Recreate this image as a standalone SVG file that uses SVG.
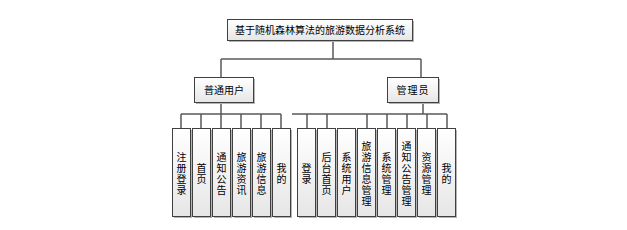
<svg xmlns="http://www.w3.org/2000/svg" width="627" height="230" viewBox="0 0 627 230">
<defs>
<linearGradient id="g" x1="0" y1="0" x2="0" y2="1">
<stop offset="0" stop-color="#ffffff"/>
<stop offset="1" stop-color="#e6e6e6"/>
</linearGradient>
</defs>
<style>
.sh{fill:#b4b4b4;}
.bx{fill:url(#g);stroke:#404040;stroke-width:1;}
.lf{fill:url(#g);stroke:#404040;stroke-width:1;}
.t{font-family:"Noto Sans CJK SC","Noto Sans CJK JP",sans-serif;font-size:10px;fill:#000;text-anchor:middle;}
.c{fill:none;stroke:#5a5a5a;stroke-width:1.5;}
</style>
<rect width="627" height="230" fill="#ffffff"/>
<g id="connectors">
<path class="c" d="M333 40V59M221 59H421M221 59V77M421 59V77"/>
<path class="c" d="M221 102V114M181 114H281M181 114V128M201 114V128M221 114V128M241 114V128M261 114V128M281 114V128"/>
<path class="c" d="M423 102V114M292 114H447M307 114V128M327 114V128M367 114V128M387 114V128M407 114V128M427 114V128M447 114V128"/>
</g>
<g id="root">
<rect class="sh" x="229" y="21" width="185" height="21"/>
<rect class="bx" x="227.5" y="19.5" width="185" height="21"/>
<text class="t" x="320" y="34">基于随机森林算法的旅游数据分析系统</text>
</g>
<g id="user">
<rect class="sh" x="196" y="79" width="59" height="25"/>
<rect class="bx" x="194.5" y="77.5" width="59" height="25"/>
<text class="t" x="224" y="94">普通用户</text>
</g>
<g id="admin">
<rect class="sh" x="389" y="79" width="51" height="25"/>
<rect class="bx" x="387.5" y="77.5" width="51" height="25"/>
<text class="t" x="413" y="94" letter-spacing="1">管理员</text>
</g>
<g id="u1"><rect class="sh" x="174" y="130" width="18" height="88"/><rect class="lf" x="172.5" y="128.5" width="18" height="88"/><text class="t" x="181.5" y="161"><tspan x="181.5">注</tspan><tspan x="181.5" dy="11">册</tspan><tspan x="181.5" dy="11">登</tspan><tspan x="181.5" dy="11">录</tspan></text></g>
<g id="u2"><rect class="sh" x="194" y="130" width="18" height="88"/><rect class="lf" x="192.5" y="128.5" width="18" height="88"/><text class="t" x="201.5" y="172"><tspan x="201.5">首</tspan><tspan x="201.5" dy="11">页</tspan></text></g>
<g id="u3"><rect class="sh" x="214" y="130" width="18" height="88"/><rect class="lf" x="212.5" y="128.5" width="18" height="88"/><text class="t" x="221.5" y="161"><tspan x="221.5">通</tspan><tspan x="221.5" dy="11">知</tspan><tspan x="221.5" dy="11">公</tspan><tspan x="221.5" dy="11">告</tspan></text></g>
<g id="u4"><rect class="sh" x="234" y="130" width="18" height="88"/><rect class="lf" x="232.5" y="128.5" width="18" height="88"/><text class="t" x="241.5" y="161"><tspan x="241.5">旅</tspan><tspan x="241.5" dy="11">游</tspan><tspan x="241.5" dy="11">资</tspan><tspan x="241.5" dy="11">讯</tspan></text></g>
<g id="u5"><rect class="sh" x="254" y="130" width="18" height="88"/><rect class="lf" x="252.5" y="128.5" width="18" height="88"/><text class="t" x="261.5" y="161"><tspan x="261.5">旅</tspan><tspan x="261.5" dy="11">游</tspan><tspan x="261.5" dy="11">信</tspan><tspan x="261.5" dy="11">息</tspan></text></g>
<g id="u6"><rect class="sh" x="274" y="130" width="18" height="88"/><rect class="lf" x="272.5" y="128.5" width="18" height="88"/><text class="t" x="281.5" y="172"><tspan x="281.5">我</tspan><tspan x="281.5" dy="11">的</tspan></text></g>
<g id="a1"><rect class="sh" x="299" y="130" width="18" height="88"/><rect class="lf" x="297.5" y="128.5" width="18" height="88"/><text class="t" x="306.5" y="172"><tspan x="306.5">登</tspan><tspan x="306.5" dy="11">录</tspan></text></g>
<g id="a2"><rect class="sh" x="319" y="130" width="18" height="88"/><rect class="lf" x="317.5" y="128.5" width="18" height="88"/><text class="t" x="326.5" y="161"><tspan x="326.5">后</tspan><tspan x="326.5" dy="11">台</tspan><tspan x="326.5" dy="11">首</tspan><tspan x="326.5" dy="11">页</tspan></text></g>
<g id="a3"><rect class="sh" x="339" y="130" width="18" height="88"/><rect class="lf" x="337.5" y="128.5" width="18" height="88"/><text class="t" x="346.5" y="161"><tspan x="346.5">系</tspan><tspan x="346.5" dy="11">统</tspan><tspan x="346.5" dy="11">用</tspan><tspan x="346.5" dy="11">户</tspan></text></g>
<g id="a4"><rect class="sh" x="359" y="130" width="18" height="88"/><rect class="lf" x="357.5" y="128.5" width="18" height="88"/><text class="t" x="366.5" y="150"><tspan x="366.5">旅</tspan><tspan x="366.5" dy="11">游</tspan><tspan x="366.5" dy="11">信</tspan><tspan x="366.5" dy="11">息</tspan><tspan x="366.5" dy="11">管</tspan><tspan x="366.5" dy="11">理</tspan></text></g>
<g id="a5"><rect class="sh" x="379" y="130" width="18" height="88"/><rect class="lf" x="377.5" y="128.5" width="18" height="88"/><text class="t" x="386.5" y="161"><tspan x="386.5">系</tspan><tspan x="386.5" dy="11">统</tspan><tspan x="386.5" dy="11">管</tspan><tspan x="386.5" dy="11">理</tspan></text></g>
<g id="a6"><rect class="sh" x="399" y="130" width="18" height="88"/><rect class="lf" x="397.5" y="128.5" width="18" height="88"/><text class="t" x="406.5" y="150"><tspan x="406.5">通</tspan><tspan x="406.5" dy="11">知</tspan><tspan x="406.5" dy="11">公</tspan><tspan x="406.5" dy="11">告</tspan><tspan x="406.5" dy="11">管</tspan><tspan x="406.5" dy="11">理</tspan></text></g>
<g id="a7"><rect class="sh" x="419" y="130" width="18" height="88"/><rect class="lf" x="417.5" y="128.5" width="18" height="88"/><text class="t" x="426.5" y="161"><tspan x="426.5">资</tspan><tspan x="426.5" dy="11">源</tspan><tspan x="426.5" dy="11">管</tspan><tspan x="426.5" dy="11">理</tspan></text></g>
<g id="a8"><rect class="sh" x="439" y="130" width="18" height="88"/><rect class="lf" x="437.5" y="128.5" width="18" height="88"/><text class="t" x="446.5" y="172"><tspan x="446.5">我</tspan><tspan x="446.5" dy="11">的</tspan></text></g>
</svg>
